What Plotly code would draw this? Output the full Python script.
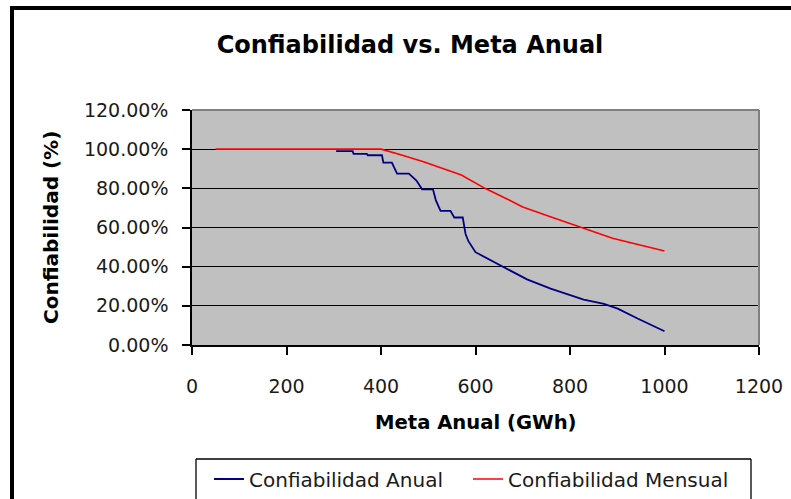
import plotly.graph_objects as go

# ---- data ----
anual_x = [305, 340, 342, 370, 372, 402, 405, 423, 434, 459, 475, 487, 510, 516, 526, 547, 555, 573,
           579, 585, 600, 653, 709, 759, 801, 829, 872, 901, 943, 1000]
anual_y = [0.990, 0.990, 0.976, 0.976, 0.969, 0.969, 0.931, 0.931, 0.875, 0.875, 0.840, 0.795, 0.795,
           0.740, 0.685, 0.685, 0.651, 0.651, 0.567, 0.530, 0.474, 0.406, 0.335, 0.288, 0.254, 0.232,
           0.210, 0.186, 0.135, 0.070]

mensual_x = [50, 400, 440, 490, 570, 620, 670, 700, 760, 830, 890, 1000]
mensual_y = [1.00, 1.00, 0.973, 0.936, 0.868, 0.800, 0.742, 0.705, 0.653, 0.597, 0.545, 0.480]

x_ticks = [0, 200, 400, 600, 800, 1000, 1200]
y_ticks = [0.0, 0.2, 0.4, 0.6, 0.8, 1.0, 1.2]

title_text = "Confiabilidad vs. Meta Anual"
x_title = "Meta Anual (GWh)"
y_title = "Confiabilidad (%)"
name_anual = "Confiabilidad Anual"
name_mensual = "Confiabilidad Mensual"

FONT = "DejaVu Sans"

# plot area in pixels: x 192..759, y 110..345
L, R, T, B = 192, 791 - 759, 110, 499 - 345
PW, PH = 759 - 192, 345 - 110


def px_x(p):
    return (p - L) / PW


def px_y(p):
    return (345 - p) / PH


fig = go.Figure()
fig.add_trace(go.Scatter(x=anual_x, y=anual_y, mode="lines", name=name_anual,
                         line=dict(color="#000080", width=1.8)))
fig.add_trace(go.Scatter(x=mensual_x, y=mensual_y, mode="lines", name=name_mensual,
                         line=dict(color="#FF0000", width=1.6)))

fig.update_layout(
    width=791, height=499,
    margin=dict(l=L, r=R, t=T, b=B, autoexpand=False),
    paper_bgcolor="white",
    plot_bgcolor="#C0C0C0",
    font=dict(family=FONT, size=19, color="#1a1a1a"),
    title=dict(text="<b>" + title_text + "</b>", x=px_x(410), xref="paper", xanchor="center",
               y=1 - 45 / 499, yref="container", yanchor="middle",
               font=dict(family=FONT, size=24, color="#000000")),
    showlegend=True,
    legend=dict(orientation="h", x=px_x(209), xanchor="left", y=px_y(479), yanchor="middle",
                bgcolor="rgba(0,0,0,0)", borderwidth=0, entrywidth=214, entrywidthmode="pixels",
                font=dict(family=FONT, size=20, color="#1a1a1a")),
)

fig.update_xaxes(range=[0, 1200], tickvals=x_ticks, showgrid=False, zeroline=False,
                 showline=True, linecolor="black", linewidth=1.5,
                 ticks="outside", ticklen=8, tickwidth=1.5, tickcolor="black",
                 ticklabelstandoff=15, fixedrange=True)
fig.update_yaxes(range=[0, 1.2], tickvals=y_ticks, tickformat=".2%", showgrid=True,
                 gridcolor="black", gridwidth=1.3, zeroline=False,
                 showline=True, linecolor="black", linewidth=1.5,
                 ticks="outside", ticklen=8, tickwidth=1.5, tickcolor="black",
                 ticklabelstandoff=10, fixedrange=True)

shapes = [
    # plot area grey border top/right
    dict(type="line", xref="paper", yref="paper", x0=0, x1=1, y0=1, y1=1,
         line=dict(color="#808080", width=2)),
    dict(type="line", xref="paper", yref="paper", x0=1, x1=1, y0=0, y1=1,
         line=dict(color="#808080", width=2)),
    # outer black frame (left and top)
    dict(type="line", xref="paper", yref="paper", x0=px_x(12), x1=px_x(12), y0=px_y(6), y1=px_y(499),
         line=dict(color="black", width=4)),
    dict(type="line", xref="paper", yref="paper", x0=px_x(10), x1=px_x(791), y0=px_y(8), y1=px_y(8),
         line=dict(color="black", width=4)),
    # legend box (bottom edge is outside the picture)
    dict(type="line", xref="paper", yref="paper", x0=px_x(196), x1=px_x(751), y0=px_y(459), y1=px_y(459),
         line=dict(color="black", width=1.3)),
    dict(type="line", xref="paper", yref="paper", x0=px_x(196), x1=px_x(196), y0=px_y(459), y1=px_y(499),
         line=dict(color="black", width=1.3)),
    dict(type="line", xref="paper", yref="paper", x0=px_x(751), x1=px_x(751), y0=px_y(459), y1=px_y(499),
         line=dict(color="black", width=1.3)),
]
fig.update_layout(shapes=shapes)

annotations = [
    dict(text="<b>" + x_title + "</b>", x=px_x(476), y=px_y(422), xref="paper", yref="paper",
         xanchor="center", yanchor="middle", showarrow=False,
         font=dict(family=FONT, size=19.6, color="#000000")),
    dict(text="<b>" + y_title + "</b>", x=px_x(51), y=px_y(228), xref="paper", yref="paper",
         xanchor="center", yanchor="middle", showarrow=False, textangle=-90,
         font=dict(family=FONT, size=20, color="#000000")),
]
fig.update_layout(annotations=annotations)

fig.write_html("out.html", config={"displayModeBar": False},
               post_script="document.body.style.margin='0';document.body.style.overflow='hidden';")
